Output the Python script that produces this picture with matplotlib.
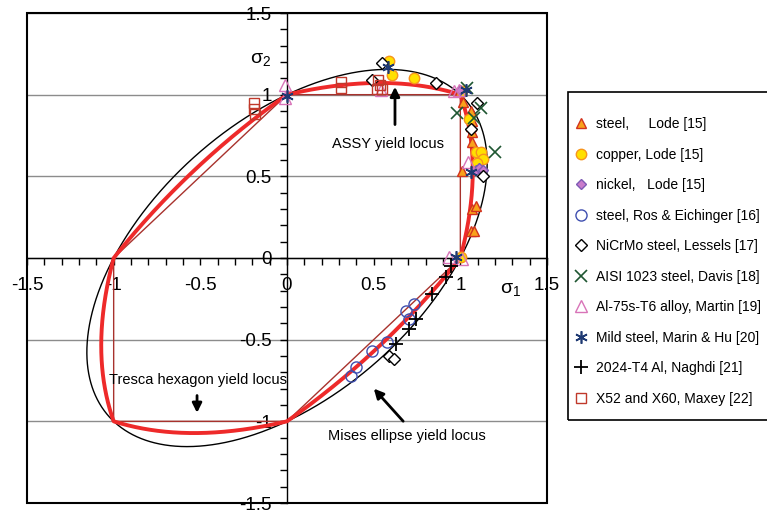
import numpy as np
import matplotlib
matplotlib.use('Agg')
import matplotlib.pyplot as plt
from matplotlib.lines import Line2D
from matplotlib.patches import Rectangle
from matplotlib.ticker import MultipleLocator

plt.rcParams['font.family'] = ['Liberation Sans', 'DejaVu Sans']
plt.rcParams['mathtext.fontset'] = 'custom'
plt.rcParams['mathtext.rm'] = 'Liberation Sans'
plt.rcParams['mathtext.it'] = 'Liberation Sans:italic'

# ---------------- data (sigma1, sigma2 normalised by yield stress) ----------------
tick_vals = [-1.5, -1.0, -0.5, 0.0, 0.5, 1.0, 1.5]
tick_labels = ['-1.5', '-1', '-0.5', '0', '0.5', '1', '1.5']

tresca_s1 = [1, 1, 0, -1, -1, 0, 1]
tresca_s2 = [0, 1, 1, 0, -1, -1, 0]

steel_lode_s1 = [1.017, 1.06, 1.07, 1.06, 1.07, 1.07, 1.01, 1.07, 1.09, 1.064, 1.081, 1.00]
steel_lode_s2 = [0.957, 0.90, 0.84, 0.81, 0.77, 0.71, 0.53, 0.30, 0.317, 0.165, 0.165, 1.02]

copper_lode_s1 = [0.59, 0.605, 0.733, 1.052, 1.093, 1.122, 1.128, 1.099, 1.006, 1.01]
copper_lode_s2 = [1.207, 1.122, 1.104, 0.848, 0.652, 0.652, 0.604, 0.58, 0.006, 1.02]

nickel_lode_s1 = [1.09, 1.11, 1.13, 1.00]
nickel_lode_s2 = [0.54, 0.55, 0.54, 1.03]

ros_s1 = [0.733, 0.686, 0.703, 0.576, 0.488, 0.40, 0.37]
ros_s2 = [-0.28, -0.323, -0.372, -0.512, -0.567, -0.665, -0.72]

lessels_s1 = [0.547, 0.488, 0.86, 1.099, 1.064, 1.128, 0.587, 0.616]
lessels_s2 = [1.195, 1.09, 1.073, 0.951, 0.787, 0.50, -0.598, -0.616]

davis_s1 = [0.983, 1.122, 1.081, 1.198, 1.04]
davis_s2 = [0.89, 0.92, 0.86, 0.646, 1.04]

martin_s1 = [-0.01, -0.01, 0.965, 0.994, 0.936, 1.012, 1.045, 0.54]
martin_s2 = [1.06, 0.98, 1.02, 1.03, 0.006, -0.006, 0.59, 1.03]

marin_s1 = [0.0, 1.03, 0.58, 1.064, 0.977]
marin_s2 = [0.99, 1.03, 1.17, 0.524, 0.006]

naghdi_s1 = [0.948, 0.919, 0.837, 0.744, 0.703, 0.628]
naghdi_s2 = [-0.049, -0.116, -0.22, -0.372, -0.433, -0.524]

maxey_s1 = [-0.19, -0.19, -0.185, 0.314, 0.314, 0.523, 0.535, 0.517, 0.547]
maxey_s2 = [0.95, 0.915, 0.88, 1.079, 1.043, 1.09, 1.06, 1.037, 1.037]

# ---------------- figure ----------------
fig = plt.figure(figsize=(7.67, 5.12), dpi=100)
ax = fig.add_axes([27/767, 1-503/512, 520/767, 490/512])
ax.set_xlim(-1.5, 1.5)
ax.set_ylim(-1.5, 1.5)

# theoretical loci
theta = np.linspace(0, 2*np.pi, 3000)
c, s = np.cos(theta), np.sin(theta)
mises_eff = np.sqrt(c**2 - c*s + s**2)
tresca_eff = np.maximum.reduce([np.abs(c), np.abs(s), np.abs(c - s)])
r_mises = 1.0 / mises_eff
r_assy = 2.0 / (mises_eff + tresca_eff)

ax.plot(r_mises*c, r_mises*s, color='black', lw=1.0, zorder=2)
ax.plot(tresca_s1, tresca_s2, color='#A8322D', lw=1.0, zorder=2)
ax.plot(r_assy*c, r_assy*s, color='#EE2A2A', lw=2.8, zorder=3)

# grid / axes
ax.set_xticks(tick_vals, tick_labels)
ax.set_yticks(tick_vals, tick_labels)
ax.xaxis.set_minor_locator(MultipleLocator(0.1))
ax.yaxis.set_minor_locator(MultipleLocator(0.1))
ax.grid(axis='y', which='major', color='#8c8c8c', lw=1.0, zorder=0)
ax.set_axisbelow(True)
for sp in ['top', 'right']:
    ax.spines[sp].set_visible(False)
ax.spines['left'].set_position(('data', 0))
ax.spines['bottom'].set_position(('data', 0))
ax.spines['left'].set_linewidth(1.0)
ax.spines['bottom'].set_linewidth(1.0)
ax.tick_params(which='both', direction='out', length=5, width=1)
ax.tick_params(axis='x', labelsize=13.5, pad=9)
ax.tick_params(axis='y', labelsize=13.5, pad=6)
ax.add_patch(Rectangle((0, 0), 1, 1, transform=ax.transAxes, fill=False,
                       lw=1.5, edgecolor='black', clip_on=False, zorder=10))

# data markers
styles = [
    ('steel,     Lode [15]', steel_lode_s1, steel_lode_s2,
     dict(marker='^', ms=7.5, mfc='#F9A21B', mec='#D2321E', mew=1.0)),
    ('copper, Lode [15]', copper_lode_s1, copper_lode_s2,
     dict(marker='o', ms=7.5, mfc='#FFE000', mec='#F7941D', mew=1.0)),
    ('nickel,   Lode [15]', nickel_lode_s1, nickel_lode_s2,
     dict(marker='D', ms=5, mfc='#C97CCB', mec='#7E5BB5', mew=1.0)),
    ('steel, Ros & Eichinger [16]', ros_s1, ros_s2,
     dict(marker='o', ms=8, mfc='none', mec='#3F4FB0', mew=1.0)),
    ('NiCrMo steel, Lessels [17]', lessels_s1, lessels_s2,
     dict(marker='D', ms=6, mfc='white', mec='black', mew=1.0)),
    ('AISI 1023 steel, Davis [18]', davis_s1, davis_s2,
     dict(marker='x', ms=8, mec='#1E5631', mew=1.2)),
    ('Al-75s-T6 alloy, Martin [19]', martin_s1, martin_s2,
     dict(marker='^', ms=8, mfc='none', mec='#D874B8', mew=1.0)),
    ('Mild steel, Marin & Hu [20]', marin_s1, marin_s2,
     dict(marker=(6, 2, 0), ms=9, mec='#1F3A73', mew=1.2)),
    ('2024-T4 Al, Naghdi [21]', naghdi_s1, naghdi_s2,
     dict(marker='+', ms=10, mec='black', mew=1.3)),
    ('X52 and X60, Maxey [22]', maxey_s1, maxey_s2,
     dict(marker='s', ms=7, mfc='none', mec='#C0392B', mew=1.0)),
]
handles = []
for label, xs, ys, kw in styles:
    ax.plot(xs, ys, ls='none', zorder=5, **kw)
    handles.append(Line2D([], [], ls='none', label=label, **kw))

# labels and annotations
ax.text(1.287, -0.19, r'σ$_1$', fontsize=14, ha='center', va='center')
ax.text(-0.15, 1.213, r'σ$_2$', fontsize=14, ha='center', va='center')

arrow = dict(arrowstyle='-|>', color='black', lw=2, mutation_scale=14)
ax.annotate('', xy=(0.623, 1.065), xytext=(0.623, 0.80), arrowprops=arrow, zorder=6)
ax.text(0.583, 0.695, 'ASSY yield locus', fontsize=10.5, ha='center', va='center')
ax.annotate('', xy=(-0.519, -0.965), xytext=(-0.519, -0.825), arrowprops=arrow, zorder=6)
ax.text(-0.514, -0.744, 'Tresca hexagon yield locus', fontsize=10.5, ha='center', va='center')
ax.annotate('', xy=(0.49, -0.787), xytext=(0.681, -1.012), arrowprops=arrow, zorder=6)
ax.text(0.692, -1.091, 'Mises ellipse yield locus', fontsize=10.5, ha='center', va='center')

# legend
fig.patches.append(Rectangle((568/767, 1-420/512), 0.4, 328/512, transform=fig.transFigure,
                             fill=False, lw=1.2, edgecolor='black'))
fig.legend(handles=handles, loc='upper left', bbox_to_anchor=(574/767, 1-117/512),
           frameon=False, fontsize=10, handlelength=1.0, handletextpad=0.55,
           borderpad=0, borderaxespad=0, labelspacing=1.19)

fig.savefig('out.png', dpi=100)
